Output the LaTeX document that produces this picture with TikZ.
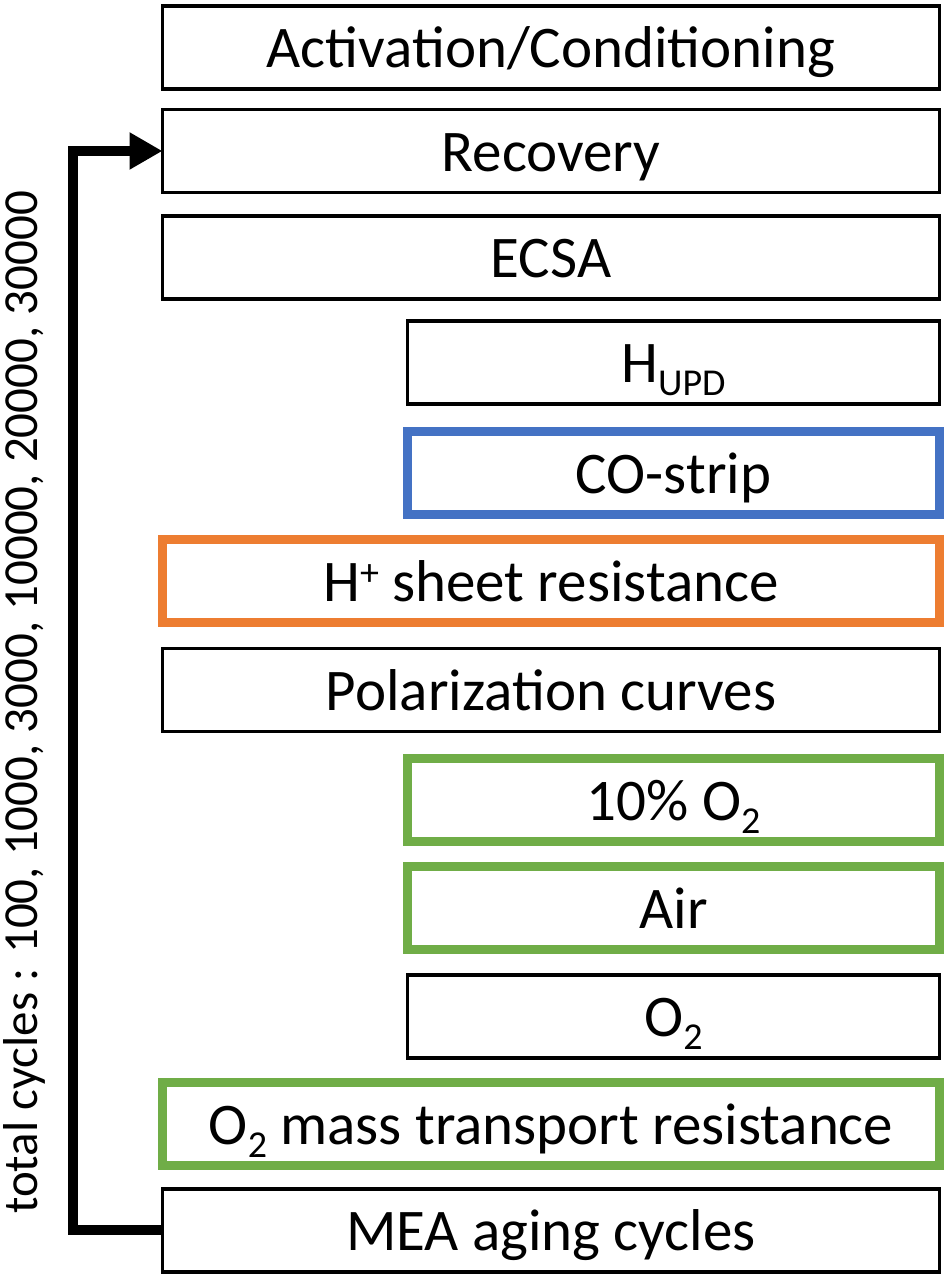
\documentclass[tikz,border=0pt]{standalone}
\usepackage{fontspec}
\setmainfont{Carlito}
\usetikzlibrary{arrows.meta}
\definecolor{offblue}{HTML}{4472C4}
\definecolor{offorange}{HTML}{ED7D31}
\definecolor{offgreen}{HTML}{70AD47}
\newcommand\lowsub[1]{\raisebox{-0.22em}{\fontsize{38}{40}\selectfont #1}}
\newcommand\highsup[1]{\raisebox{0.28em}{\fontsize{38}{40}\selectfont #1}}
\begin{document}
\begin{tikzpicture}[x=1pt,y=1pt,
  box/.style={draw=black, line width=3.5pt, minimum height=83pt, inner sep=0pt, outer sep=0pt,
    text height=52pt, text depth=11pt, font=\fontsize{59}{62}\selectfont},
  wide/.style={box, minimum width=777pt},
  narrow/.style={box, minimum width=532pt},
  colbox/.style={line width=9pt, draw=#1},
  loop/.style={line width=10pt, -{Triangle[length=33pt,width=35pt]}}
]
\fill[white] (0,0) rectangle (947,1280);
\useasboundingbox (0,0) rectangle (947,1280);

\node[wide] (act) at (551,1280-47.5) {Activation/Conditioning};
\node[wide] (rec) at (551,1280-151) {Recovery};
\node[wide] (ecsa) at (551,1280-257.5) {ECSA};
\node[narrow] (hupd) at (673.5,1280-362.5) {H\lowsub{UPD}};
\node[narrow,colbox=offblue] (co) at (673.5,1280-473) {CO-strip};
\node[wide,colbox=offorange] (hsr) at (551,1280-581.5) {H\highsup{+} sheet resistance};
\node[wide] (pol) at (551,1280-690) {Polarization curves};
\node[narrow,colbox=offgreen] (ten) at (673.5,1280-800) {10\% O\lowsub{2}};
\node[narrow,colbox=offgreen] (air) at (673.5,1280-908) {Air};
\node[narrow] (oxy) at (673.5,1280-1016.5) {O\lowsub{2}};
\node[wide,colbox=offgreen] (mtr) at (551,1280-1124) {O\lowsub{2} mass transport resistance};
\node[wide] (mea) at (551,1280-1230.5) {MEA aging cycles};

\coordinate (corner) at (73,1280-1230.5);
\draw[loop] (mea.west) -- (corner) |- (rec.west);

\node[rotate=90, anchor=base west, inner sep=0pt, font=\fontsize{49}{51}\selectfont] (cyc)
  at (37,1280-1214) {total cycles : 100, 1000, 3000, 10000, 20000, 30000};
\end{tikzpicture}
\end{document}
